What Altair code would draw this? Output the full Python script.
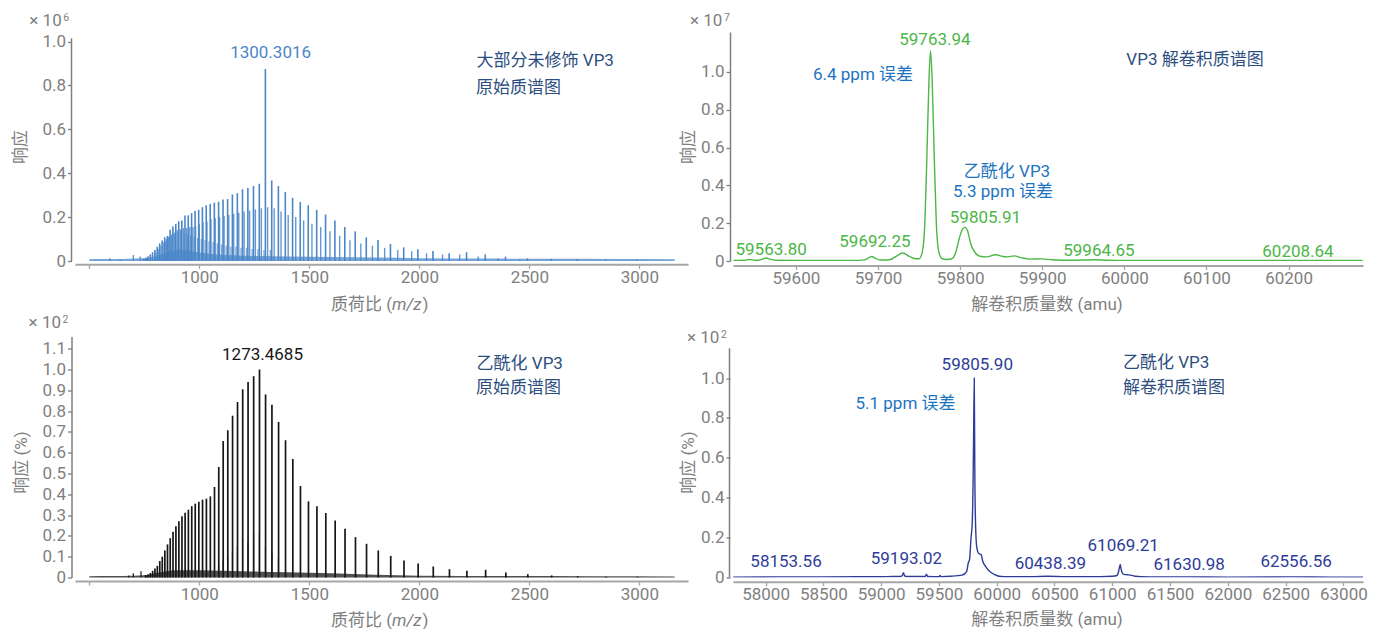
import altair as alt
import pandas as pd

FONT = "Roboto, Noto Sans CJK SC, sans-serif"
TICK_GREY = "#808080"
NAVY = "#2c4d7e"
PPM_BLUE = "#1c74c1"
BLUE = "#4a86c8"
GREEN = "#4cb647"
BLACK = "#161616"
INDIGO = "#2e3c98"

# ---------------------------------------------------------------------------
# Raw spectrum, mostly unmodified VP3 (values x 10^6)
tl_main_mz = [748.06, 757.51, 767.21, 777.17, 787.38, 797.86, 808.63, 819.69, 831.06, 842.76,
              854.78, 867.15, 879.89, 893.00, 906.52, 920.46, 934.81, 949.64, 964.94, 980.75,
              997.07, 1013.96, 1031.42, 1049.50, 1068.21, 1087.62, 1107.75, 1128.63, 1150.32, 1172.85,
              1196.29, 1220.68, 1246.09, 1272.58, 1300.3016, 1329.10, 1359.27, 1390.87, 1423.96, 1458.67,
              1495.10, 1533.41, 1573.74, 1616.25, 1661.12, 1708.55, 1758.77, 1812.03, 1868.63, 1928.88,
              1993.14, 2061.83, 2135.44, 2214.50, 2299.60, 2391.60, 2491.20, 2599.40, 2717.50, 2846.90,
              2989.20]
tl_main_int = [0.010, 0.015, 0.022, 0.030, 0.040, 0.050, 0.065, 0.080, 0.093, 0.108,
               0.114, 0.142, 0.157, 0.169, 0.181, 0.184, 0.207, 0.208, 0.218, 0.228,
               0.233, 0.245, 0.254, 0.260, 0.266, 0.270, 0.280, 0.282, 0.303, 0.309,
               0.327, 0.333, 0.342, 0.352, 0.875, 0.367, 0.342, 0.315, 0.288, 0.269,
               0.254, 0.233, 0.212, 0.184, 0.155, 0.135, 0.108, 0.096, 0.078, 0.062,
               0.053, 0.045, 0.035, 0.040, 0.030, 0.020, 0.012, 0.010, 0.008, 0.006,
               0.005]
tl_side_mz = [848.0, 860.5, 873.0, 886.0, 899.5, 913.5, 927.5, 942.0, 957.0, 971.0,
              983.07, 999.72, 1016.94, 1034.76, 1053.21, 1072.35, 1092.19, 1112.78, 1134.17, 1156.38,
              1179.49, 1203.54, 1228.59, 1254.71, 1281.96, 1310.43, 1340.18, 1371.34, 1403.96, 1438.18,
              1474.10, 1511.87, 1551.64, 1593.55, 1637.79, 1684.55, 1734.06, 1786.58, 1842.38, 1901.78,
              1965.14, 2032.87, 2105.44, 2183.39, 2267.30, 2358.00, 2456.20]
tl_side_int = [0.090, 0.110, 0.120, 0.130, 0.140, 0.145, 0.150, 0.150, 0.155, 0.155,
               0.160, 0.170, 0.175, 0.180, 0.190, 0.195, 0.200, 0.205, 0.210, 0.215,
               0.220, 0.225, 0.230, 0.235, 0.240, 0.245, 0.240, 0.225, 0.210, 0.200,
               0.185, 0.170, 0.155, 0.135, 0.115, 0.095, 0.080, 0.070, 0.060, 0.050,
               0.045, 0.035, 0.030, 0.030, 0.020, 0.012, 0.008]
tl_third_mz = [803.0, 814.0, 825.0, 837.0, 851.0, 863.5, 876.5, 890.0, 903.5, 917.5,
               931.5, 946.0, 961.0, 976.5, 992.5, 1009.0, 1026.0, 1044.0, 1062.5, 1081.5,
               1101.5, 1122.0, 1143.5, 1166.0, 1189.5, 1214.0, 1240.0, 1266.5, 1294.0, 1322.5]
tl_third_int = [0.040, 0.055, 0.070, 0.085, 0.100, 0.110, 0.120, 0.125, 0.130, 0.130,
                0.125, 0.120, 0.115, 0.110, 0.105, 0.100, 0.095, 0.090, 0.085, 0.080,
                0.075, 0.070, 0.065, 0.065, 0.060, 0.060, 0.055, 0.055, 0.050, 0.050]
tl_minor_mz = [594, 640, 700, 731, 760]
tl_minor_int = [0.012, 0.008, 0.027, 0.020, 0.015]
tl_floor_mz = [500, 560, 620, 680, 740, 770, 800, 830, 860, 890, 920, 950, 980, 1020, 1080,
               1150, 1250, 1400, 1600, 1800, 2000, 2300, 2600, 2900, 3160]
tl_floor_int = [0.008, 0.009, 0.009, 0.010, 0.012, 0.015, 0.022, 0.032, 0.042, 0.050, 0.052, 0.048,
                0.042, 0.036, 0.030, 0.026, 0.023, 0.020, 0.018, 0.016, 0.013, 0.011, 0.010, 0.009,
                0.008]

# Deconvoluted VP3 (values x 10^7)
tr_mass = [59524, 59538, 59544, 59550, 59555, 59560, 59563.80, 59568, 59575, 59600,
           59640, 59670, 59684, 59688, 59692.25, 59697, 59702, 59708, 59715, 59722,
           59730, 59738, 59745, 59750, 59754, 59757, 59759.5, 59762, 59763.94, 59766,
           59768.5, 59771, 59774, 59778, 59784, 59790, 59795, 59799, 59803, 59805.91,
           59809, 59813, 59818, 59824, 59832, 59843, 59852, 59858, 59866, 59874,
           59885, 59900, 59912, 59935, 59964.65, 59980, 60000, 60050, 60100, 60150,
           60208.64, 60250, 60290]
tr_int = [0.003, 0.004, 0.008, 0.004, 0.004, 0.011, 0.016, 0.010, 0.004, 0.003,
          0.003, 0.003, 0.006, 0.015, 0.024, 0.014, 0.005, 0.005, 0.008, 0.025,
          0.042, 0.025, 0.012, 0.012, 0.050, 0.200, 0.550, 0.950, 1.113, 0.950,
          0.550, 0.200, 0.050, 0.012, 0.008, 0.012, 0.050, 0.120, 0.170, 0.178,
          0.160, 0.090, 0.045, 0.025, 0.022, 0.033, 0.024, 0.022, 0.027, 0.018,
          0.010, 0.011, 0.007, 0.004, 0.007, 0.004, 0.003, 0.003, 0.003, 0.003,
          0.003, 0.003, 0.003]
tr_label_text = ["59563.80", "59692.25", "59763.94", "59805.91", "59964.65", "60208.64"]
tr_label_mass = [59563.80, 59692.25, 59763.94, 59805.91, 59964.65, 60208.64]
tr_label_int = [0.016, 0.024, 1.113, 0.178, 0.007, 0.003]

# Raw spectrum, acetylated VP3 (values x 10^2 %)
bl_main_mz = [758.00, 767.70, 777.70, 787.93, 798.42, 809.20, 820.27, 831.65, 843.35, 855.38,
              867.76, 880.51, 893.64, 907.16, 921.10, 935.48, 950.31, 965.62, 981.44, 997.77,
              1014.67, 1032.15, 1050.23, 1068.97, 1088.39, 1108.52, 1129.42, 1151.12, 1173.67, 1197.13,
              1221.54, 1246.97, 1273.4685, 1301.13, 1330.03, 1360.22, 1391.83, 1424.95, 1459.69, 1496.15,
              1534.49, 1574.85, 1617.38, 1662.28, 1709.75, 1760.00, 1813.30, 1869.94, 1930.23, 1994.53,
              2063.28, 2136.94, 2216.04, 2301.24, 2393.24, 2492.92, 2601.26, 2719.46, 2848.90, 2991.30]
bl_main_int = [0.010, 0.015, 0.022, 0.032, 0.043, 0.056, 0.079, 0.100, 0.130, 0.159,
               0.189, 0.220, 0.247, 0.271, 0.294, 0.311, 0.326, 0.343, 0.355, 0.364,
               0.374, 0.379, 0.390, 0.435, 0.531, 0.656, 0.708, 0.778, 0.844, 0.905,
               0.940, 0.968, 1.000, 0.880, 0.830, 0.748, 0.660, 0.570, 0.440, 0.366,
               0.342, 0.310, 0.274, 0.234, 0.194, 0.162, 0.130, 0.104, 0.082, 0.067,
               0.053, 0.040, 0.032, 0.037, 0.024, 0.016, 0.010, 0.006, 0.004, 0.003]
bl_side_mz = [1088.0, 1108.0, 1129.0, 1150.5, 1173.0, 1196.5, 1221.0, 1246.5, 1273.0, 1300.5,
              1329.5, 1359.5]
bl_side_int = [0.060, 0.080, 0.100, 0.120, 0.150, 0.190, 0.170, 0.210, 0.210, 0.150,
               0.120, 0.090]
bl_minor_mz = [680, 700, 735, 755]
bl_minor_int = [0.010, 0.020, 0.030, 0.012]
bl_floor_mz = [500, 600, 700, 760, 800, 850, 900, 1000, 1100, 1200, 1400, 1600, 1800, 2000,
               2400, 2800, 3160]
bl_floor_int = [0.006, 0.007, 0.008, 0.012, 0.020, 0.030, 0.035, 0.035, 0.033, 0.030, 0.025,
                0.020, 0.013, 0.009, 0.007, 0.006, 0.005]

# Deconvoluted acetylated VP3 (values x 10^2 %)
br_mass = [57720, 58153.56, 58500, 58800, 59000, 59100, 59170, 59185, 59193.02, 59202,
           59215, 59300, 59380, 59392, 59404, 59500, 59510, 59520, 59600, 59700,
           59740, 59755, 59765, 59778, 59788, 59795, 59800, 59805.90, 59811, 59818,
           59828, 59845, 59865, 59880, 59905, 59940, 59965, 60000, 60040, 60100,
           60300, 60438.39, 60600, 60900, 61000, 61040, 61055, 61062, 61069.21, 61076,
           61085, 61100, 61130, 61160, 61200, 61250, 61400, 61630.98, 62000, 62556.56,
           62900, 63170]
br_int = [0.002, 0.003, 0.003, 0.004, 0.004, 0.005, 0.005, 0.012, 0.024, 0.010,
          0.005, 0.005, 0.005, 0.016, 0.005, 0.004, 0.010, 0.004, 0.006, 0.012,
          0.030, 0.075, 0.090, 0.200, 0.270, 0.450, 0.700, 1.000, 0.500, 0.250,
          0.150, 0.120, 0.115, 0.080, 0.055, 0.030, 0.020, 0.010, 0.005, 0.004,
          0.004, 0.006, 0.004, 0.004, 0.006, 0.010, 0.030, 0.050, 0.065, 0.045,
          0.025, 0.016, 0.014, 0.012, 0.006, 0.004, 0.003, 0.003, 0.002, 0.003,
          0.002, 0.002]
br_label_text = ["58153.56", "59193.02", "59805.90", "60438.39", "61069.21", "61630.98", "62556.56"]
br_label_mass = [58153.56, 59193.02, 59805.90, 60438.39, 61069.21, 61630.98, 62556.56]
br_label_int = [0.003, 0.024, 1.000, 0.006, 0.065, 0.003, 0.003]

# ---------------------------------------------------------------------------
ONE = pd.DataFrame({"k": [0]})


def sticks(mz, inten):
    return pd.DataFrame({"x": mz, "y": inten, "y0": [0.0] * len(mz)})


def curve(m, i):
    return pd.DataFrame({"x": m, "y": i})


def x_enc(domain, values, offset, skip_first=False):
    expr = "format(datum.value, 'd')"
    if skip_first:
        expr = "datum.value == %d ? '' : %s" % (values[0], expr)
    return alt.X("x:Q", scale=alt.Scale(domain=domain, nice=False, zero=False),
                 axis=alt.Axis(values=values, labelExpr=expr, offset=offset, title=None,
                               domainColor="#a6a6a6", domainWidth=2, tickColor="#a6a6a6",
                               tickWidth=1.3, tickSize=4, labelFont=FONT, labelFontSize=17,
                               labelColor=TICK_GREY, labelPadding=1, labelFlush=False,
                               labelOverlap=False, grid=False))


def y_enc(domain, values, offset, show_domain=True):
    return alt.Y("y:Q", scale=alt.Scale(domain=domain, nice=False, zero=False),
                 axis=alt.Axis(values=values,
                               labelExpr="datum.value == 0 ? '0' : format(datum.value, '.1f')",
                               offset=offset, title=None, domain=show_domain,
                               domainColor="#7f7f7f", domainWidth=1.5, tickColor="#7f7f7f",
                               tickWidth=1.3, tickSize=4, labelFont=FONT, labelFontSize=17,
                               labelColor=TICK_GREY, labelPadding=2, labelFlush=False,
                               labelOverlap=False, grid=False))


def text_at(text, px, py, color, size=17, align="center", style="normal",
            baseline="middle", angle=0):
    return alt.Chart(ONE).mark_text(
        text=text, font=FONT, fontSize=size, color=color, align=align,
        baseline=baseline, fontStyle=style, angle=angle
    ).encode(x=alt.value(px), y=alt.value(py))


def peak_label(text, mass, height, dx, dy, color, X, Y):
    df = pd.DataFrame({"x": [mass], "y": [height]})
    return alt.Chart(df).mark_text(
        text=text, font=FONT, fontSize=17, color=color, dx=dx, dy=dy, baseline="middle"
    ).encode(x=X, y=Y)


def exponent(power, px, py):
    return [text_at("× 10", px, py, TICK_GREY, size=17, align="left", baseline="alphabetic"),
            text_at(power, px + 34, py - 5, TICK_GREY, size=10.5, align="left",
                    baseline="alphabetic")]


def mz_title(px, py):
    # "质荷比 (m/z)" with the m/z part set in italics
    return [text_at("质荷比 (", px, py, TICK_GREY, align="left"),
            text_at("m/z", px + 61, py, TICK_GREY, align="left", style="italic"),
            text_at(")", px + 91.5, py, TICK_GREY, align="left")]


def y_axis_line(top, bottom):
    return alt.Chart(ONE).mark_rule(color="#7f7f7f", strokeWidth=1.5).encode(
        x=alt.value(-3.5), y=alt.value(top), y2=alt.value(bottom))


def stick_layer(mz, inten, color, width, X, Y, opacity=1.0):
    return alt.Chart(sticks(mz, inten)).mark_rule(
        color=color, strokeWidth=width, opacity=opacity).encode(x=X, y=Y, y2=alt.Y2("y0"))


W_RAW, W_DEC = 613, 630
H_TOP, H_BOT = 229, 241

# ---- raw spectrum, unmodified VP3 ----
X1 = x_enc([435, 3221], [500, 1000, 1500, 2000, 2500, 3000], 3.3, skip_first=True)
Y1 = y_enc([0, 1.0433], [0, 0.2, 0.4, 0.6, 0.8, 1.0], 3.5, show_domain=False)
tl = alt.layer(
    alt.Chart(ONE).mark_rule(opacity=0, strokeWidth=1).encode(
        x=alt.value(-74.5), x2=alt.value(-74.5), y=alt.value(-31.5), y2=alt.value(-30)),
    y_axis_line(6.3, H_TOP),
    alt.Chart(curve(tl_floor_mz, tl_floor_int)).mark_area(
        color=BLUE, opacity=0.75, interpolate="monotone").encode(x=X1, y=Y1),
    stick_layer(tl_minor_mz, tl_minor_int, BLUE, 1.2, X1, Y1),
    stick_layer(tl_third_mz, tl_third_int, BLUE, 1.3, X1, Y1, opacity=0.7),
    stick_layer(tl_side_mz, tl_side_int, BLUE, 1.4, X1, Y1, opacity=0.85),
    stick_layer(tl_main_mz, tl_main_int, BLUE, 1.6, X1, Y1),
    peak_label("1300.3016", 1300.3016, 0.875, 5.2, -16, BLUE, X1, Y1),
    text_at("大部分未修饰 VP3", 401.6, 29, NAVY, align="left"),
    text_at("原始质谱图", 401, 55.5, NAVY, align="left"),
    text_at("响应", -54, 115, TICK_GREY, angle=270),
    *exponent("6", -45.7, -6),
    *mz_title(256, 272.5),
).properties(width=W_RAW, height=H_TOP)

# ---- deconvoluted, VP3 ----
X2 = x_enc([59523.4, 60290.6], [59600, 59700, 59800, 59900, 60000, 60100, 60200], 4.5)
Y2 = y_enc([0, 1.2116], [0, 0.2, 0.4, 0.6, 0.8, 1.0], 3)
tr_dx = [5, 3.3, 4.4, 20.5, 3.6, 2.3]
tr_dy = [-8, -14.5, -10.6, -9.4, -8.7, -8.4]
tr = alt.layer(
    alt.Chart(curve(tr_mass, tr_int)).mark_line(
        color=GREEN, strokeWidth=1.4, interpolate="monotone", clip=True).encode(x=X2, y=Y2),
    *[peak_label(t, m, h, dx, dy, GREEN, X2, Y2)
      for t, m, h, dx, dy in zip(tr_label_text, tr_label_mass, tr_label_int, tr_dx, tr_dy)],
    text_at("6.4 ppm 误差", 130, 43, PPM_BLUE),
    text_at("VP3 解卷积质谱图", 462, 28, NAVY),
    text_at("乙酰化 VP3", 274, 140, PPM_BLUE),
    text_at("5.3 ppm 误差", 270, 160, PPM_BLUE),
    text_at("响应", -44, 115, TICK_GREY, angle=270),
    text_at("解卷积质量数 (amu)", 314, 273, TICK_GREY),
    *exponent("7", -43, -6),
).properties(width=W_DEC, height=H_TOP)

# ---- raw spectrum, acetylated VP3 ----
X3 = x_enc([435, 3221], [500, 1000, 1500, 2000, 2500, 3000], 3.5, skip_first=True)
Y3 = y_enc([0, 1.1587], [0, 0.1, 0.2, 0.3, 0.4, 0.5, 0.6, 0.7, 0.8, 0.9, 1.0, 1.1], 3.5)
bl = alt.layer(
    alt.Chart(curve(bl_floor_mz, bl_floor_int)).mark_area(
        color=BLACK, opacity=0.75, interpolate="monotone").encode(x=X3, y=Y3),
    stick_layer(bl_minor_mz, bl_minor_int, BLACK, 1.2, X3, Y3),
    stick_layer(bl_side_mz, bl_side_int, "#555555", 1.2, X3, Y3),
    stick_layer(bl_main_mz, bl_main_int, BLACK, 1.7, X3, Y3),
    peak_label("1273.4685", 1273.4685, 1.0, 3, -14.8, BLACK, X3, Y3),
    text_at("乙酰化 VP3", 401.6, 27, NAVY, align="left"),
    text_at("原始质谱图", 401, 51.5, NAVY, align="left"),
    text_at("响应 (%)", -53, 126, TICK_GREY, angle=270),
    *exponent("2", -46.4, -8.5),
    *mz_title(256, 284),
).properties(width=W_RAW, height=H_BOT)

# ---- deconvoluted, acetylated VP3 ----
X4 = x_enc([57718, 63170], [58000, 58500, 59000, 59500, 60000, 60500, 61000, 61500, 62000,
                            62500, 63000], 4.2)
Y4 = y_enc([0, 1.2086], [0, 0.2, 0.4, 0.6, 0.8, 1.0], 3, show_domain=False)
br_dx = [2.7, 3, 3, 3, 3, 4, 4]
br_dy = [-15, -13.7, -13, -12.3, -18.5, -12, -15]
br = alt.layer(
    y_axis_line(11.8, H_BOT),
    alt.Chart(curve(br_mass, br_int)).mark_line(
        color=INDIGO, strokeWidth=1.4, interpolate="monotone", clip=True).encode(x=X4, y=Y4),
    *[peak_label(t, m, h, dx, dy, INDIGO, X4, Y4)
      for t, m, h, dx, dy in zip(br_label_text, br_label_mass, br_label_int, br_dx, br_dy)],
    text_at("5.1 ppm 误差", 172.5, 67.5, PPM_BLUE),
    text_at("乙酰化 VP3", 390, 26.5, NAVY, align="left"),
    text_at("解卷积质谱图", 390, 51.5, NAVY, align="left"),
    text_at("响应 (%)", -44, 126, TICK_GREY, angle=270),
    text_at("解卷积质量数 (amu)", 314, 283.5, TICK_GREY),
    *exponent("2", -46, 6.2),
).properties(width=W_DEC, height=H_BOT)

chart = alt.concat(
    tl, tr, bl, br, columns=2, bounds="flush", align="each",
    spacing={"row": 75.5, "column": 45},
).properties(padding=0).configure_view(stroke=None)

chart.save("out.html", embed_options={"renderer": "svg", "actions": False})
